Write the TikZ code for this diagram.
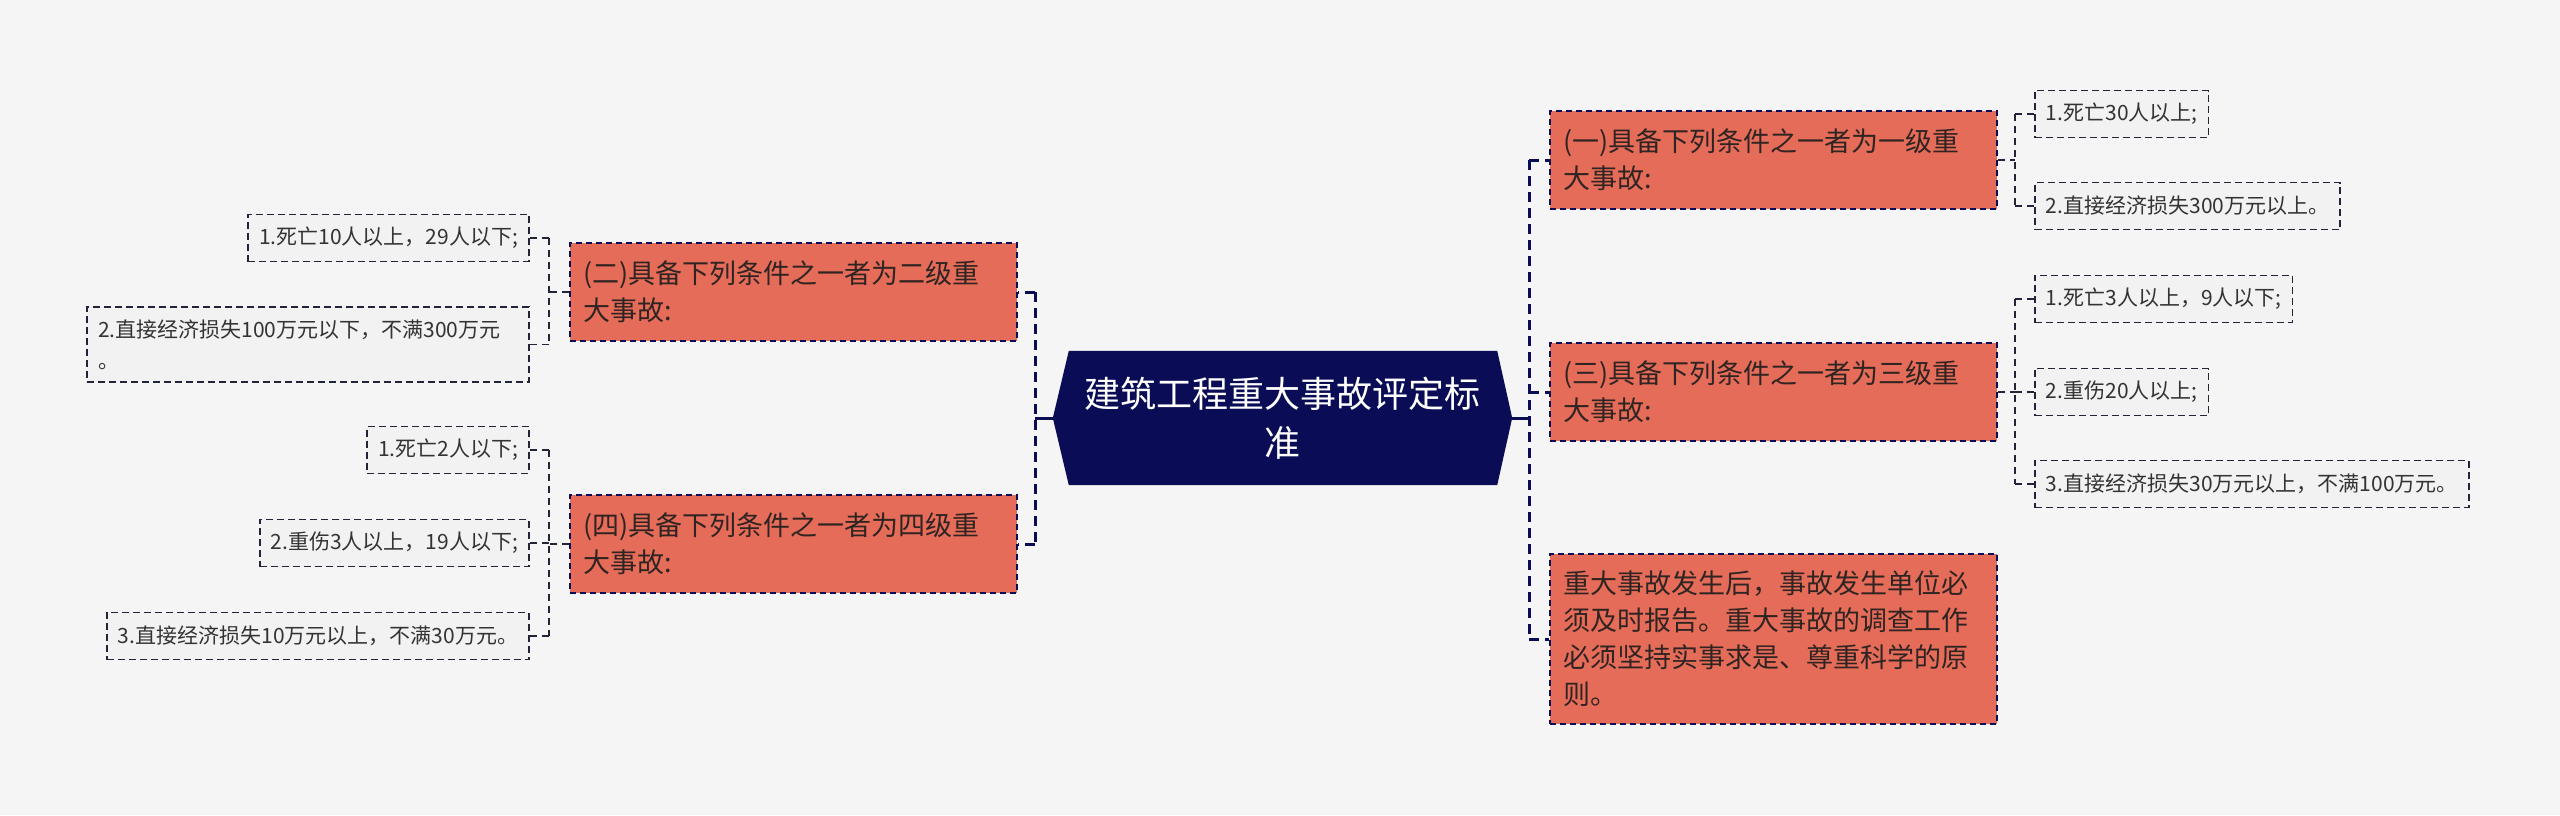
\documentclass[tikz,border=0pt]{standalone}
\usepackage{fontspec}
\setmainfont{Noto Sans CJK SC}
\usetikzlibrary{backgrounds}
\definecolor{bg}{RGB}{245,245,245}
\definecolor{org}{RGB}{228,108,89}
\definecolor{navy}{RGB}{10,12,85}
\definecolor{leafborder}{RGB}{34,37,58}
\definecolor{txt}{RGB}{48,36,34}
\definecolor{ctxt}{RGB}{51,51,51}
\definecolor{cfill}{RGB}{242,242,242}
\begin{document}
\begin{tikzpicture}[x=1pt,y=-1pt,
  mainbox/.style={draw=navy, line width=2pt, dash pattern=on 6pt off 4pt, fill=org, text=txt,
    font=\fontsize{27}{37}\selectfont, align=left, text width=421pt, inner xsep=13pt,
    inner ysep=0pt, minimum height=98pt, anchor=west},
  leaf/.style={draw=leafborder, line width=1.8pt, dash pattern=on 7pt off 4pt, fill=cfill, text=ctxt,
    font=\fontsize{21}{31}\selectfont, align=left, inner xsep=11pt, inner ysep=0pt,
    minimum height=47pt},
  leafR/.style={leaf, anchor=west},
  leafL/.style={leaf, anchor=east},
  busline/.style={draw=navy, line width=3pt, dash pattern=on 10pt off 6pt},
  leafline/.style={draw=leafborder, line width=1.8pt, dash pattern=on 7pt off 5pt},
  stemline/.style={draw=navy, line width=3pt}]
\useasboundingbox (0,0) rectangle (2560,815);

% central node
\node[minimum width=459pt, minimum height=134pt, inner sep=0pt, text=white,
  font=\fontsize{36}{49}\selectfont, align=center] (root) at (1282.5,418)
  {建筑工程重大事故评定标\\准};

% main nodes
\node[mainbox] (n1) at (1549,160) {(一)具备下列条件之一者为一级重\\大事故:};
\node[mainbox] (n3) at (1549,392) {(三)具备下列条件之一者为三级重\\大事故:};
\node[mainbox, minimum height=170pt] (n5) at (1549,639)
  {重大事故发生后，事故发生单位必\\须及时报告。重大事故的调查工作\\必须坚持实事求是、尊重科学的原\\则。};
\node[mainbox] (n2) at (569,292) {(二)具备下列条件之一者为二级重\\大事故:};
\node[mainbox] (n4) at (569,544) {(四)具备下列条件之一者为四级重\\大事故:};

% leaves right
\node[leafR] (c11) at (2034,114) {1.死亡30人以上;};
\node[leafR] (c12) at (2034,206) {2.直接经济损失300万元以上。};
\node[leafR] (c31) at (2034,299) {1.死亡3人以上，9人以下;};
\node[leafR] (c32) at (2034,392) {2.重伤20人以上;};
\node[leafR] (c33) at (2034,484) {3.直接经济损失30万元以上，不满100万元。};
% leaves left
\node[leafL] (c21) at (530,238) {1.死亡10人以上，29人以下;};
\node[leafL, text width=420pt, minimum height=75pt] (c22) at (530,344.5) {2.直接经济损失100万元以下，不满300万元\\。};
\node[leafL] (c41) at (530,450) {1.死亡2人以下;};
\node[leafL] (c42) at (530,543) {2.重伤3人以上，19人以下;};
\node[leafL] (c43) at (530,636) {3.直接经济损失10万元以上，不满30万元。};

\begin{scope}[on background layer]
\fill[bg] (0,0) rectangle (2560,815);
\fill[navy] ([xshift=16pt]root.north west) -- ([xshift=-15pt]root.north east) -- (root.east)
  -- ([xshift=-15pt]root.south east) -- ([xshift=16pt]root.south west) -- (root.west) -- cycle;
\end{scope}

% bus coordinates
\coordinate (rbus) at (1529,418);
\coordinate (lbus) at (1035,418);
\coordinate (b1) at (2015,160);
\coordinate (b3) at (2015,392);
\coordinate (b2) at (549,292);
\coordinate (b4) at (549,544);

% main connectors right
\draw[stemline] (root.east) -- (rbus);
\draw[busline] (rbus |- n1.west) -- (rbus |- n5.west);
\draw[busline] (rbus |- n1.west) -- (n1.west);
\draw[busline] (rbus |- n3.west) -- (n3.west);
\draw[busline] (rbus |- n5.west) -- (n5.west);
% main connectors left
\draw[stemline] (root.west) -- (lbus);
\draw[busline] (lbus |- n2.east) -- (lbus |- n4.east);
\draw[busline] (lbus |- n2.east) -- (n2.east);
\draw[busline] (lbus |- n4.east) -- (n4.east);

% leaf connectors n1
\draw[leafline] (n1.east) -- (b1);
\draw[leafline] (b1 |- c11.west) -- (b1 |- c12.west);
\draw[leafline] (b1 |- c11.west) -- (c11.west);
\draw[leafline] (b1 |- c12.west) -- (c12.west);
% n3
\draw[leafline] (n3.east) -- (b3);
\draw[leafline] (b3 |- c31.west) -- (b3 |- c33.west);
\draw[leafline] (b3 |- c31.west) -- (c31.west);
\draw[leafline] (b3 |- c32.west) -- (c32.west);
\draw[leafline] (b3 |- c33.west) -- (c33.west);
% n2
\draw[leafline] (n2.west) -- (b2);
\draw[leafline] (b2 |- c21.east) -- (b2 |- c22.east);
\draw[leafline] (b2 |- c21.east) -- (c21.east);
\draw[leafline] (b2 |- c22.east) -- (c22.east);
% n4
\draw[leafline] (n4.west) -- (b4);
\draw[leafline] (b4 |- c41.east) -- (b4 |- c43.east);
\draw[leafline] (b4 |- c41.east) -- (c41.east);
\draw[leafline] (b4 |- c42.east) -- (c42.east);
\draw[leafline] (b4 |- c43.east) -- (c43.east);
\end{tikzpicture}
\end{document}
